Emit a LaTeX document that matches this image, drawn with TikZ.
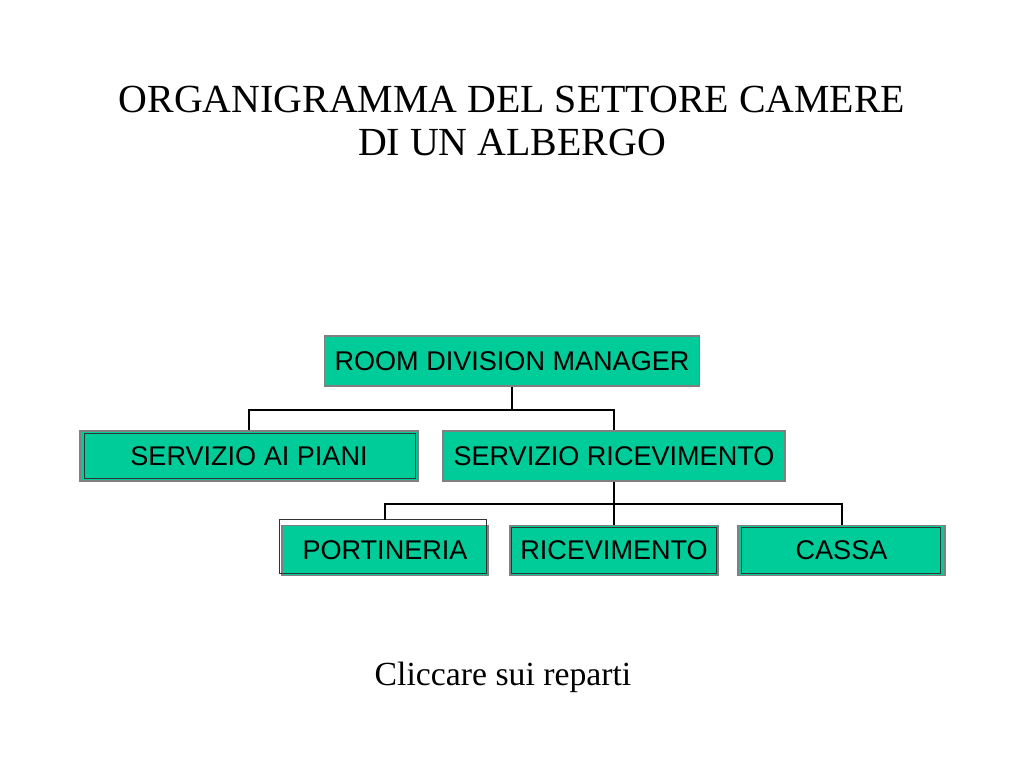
\documentclass[tikz,border=0pt]{standalone}
\usepackage{fontspec}
\setmainfont{Liberation Serif}
\newfontfamily\boxfont{Liberation Sans}
\usetikzlibrary{calc}
\definecolor{teal}{HTML}{00CC99}
\tikzset{
    unit/.style={shape=rectangle,draw=gray,line width=1.2pt,fill=teal,minimum height=37.5pt,inner sep=0pt,font=\boxfont\fontsize{20.3}{23}\selectfont},
    link/.style={draw=black!80,line width=0.6pt},
    tree/.style={draw=black,line width=1.5pt}
}
\begin{document}
\begin{tikzpicture}[x=0.75pt,y=-0.75pt]
    \useasboundingbox[fill=white] (0,0) rectangle (1024,768);

    \node[align=center,font=\fontsize{29.9}{32}\selectfont] (title) at (512,121) {ORGANIGRAMMA DEL SETTORE CAMERE\\DI UN ALBERGO};

    \node[unit,minimum width=281.25pt] (rdm) at (512,361) {ROOM DIVISION MANAGER};
    \node[unit,minimum width=253.5pt] (piani) at (249,456) {SERVIZIO AI PIANI};
    \node[unit,minimum width=256.5pt] (ricev) at (614,456) {SERVIZIO RICEVIMENTO};
    \node[unit,minimum width=154.5pt] (port) at (385,550.5) {PORTINERIA};
    \node[unit,minimum width=156pt] (ric) at (614,550.5) {RICEVIMENTO};
    \node[unit,minimum width=155.25pt] (cassa) at (841.5,550.5) {CASSA};

    \draw[link] ($(piani.north west)+(5,3)$) rectangle ($(piani.south east)+(-3,-3)$);
    \draw[link] ($(port.north west)+(-2,-5)$) rectangle ($(port.south east)+(-2,-3)$);
    \draw[link] ($(ric.north west)+(2,3)$) rectangle ($(ric.south east)+(-2,-3)$);
    \draw[link] ($(cassa.north west)+(4,3)$) rectangle ($(cassa.south east)+(-5,-3)$);

    \path[tree] (rdm.south) -- ++(0,23) -| (piani.north);
    \path[tree] (rdm.south) -- ++(0,23) -| (ricev.north);
    \path[tree] (ricev.south) -- ++(0,22) -| ($(port.north)+(0,-5)$);
    \path[tree] (ricev.south) -- (ric.north);
    \path[tree] (ricev.south) -- ++(0,22) -| (cassa.north);

    \node[font=\fontsize{25.3}{28}\selectfont] (hint) at (503,677) {Cliccare sui reparti};
\end{tikzpicture}
\end{document}
